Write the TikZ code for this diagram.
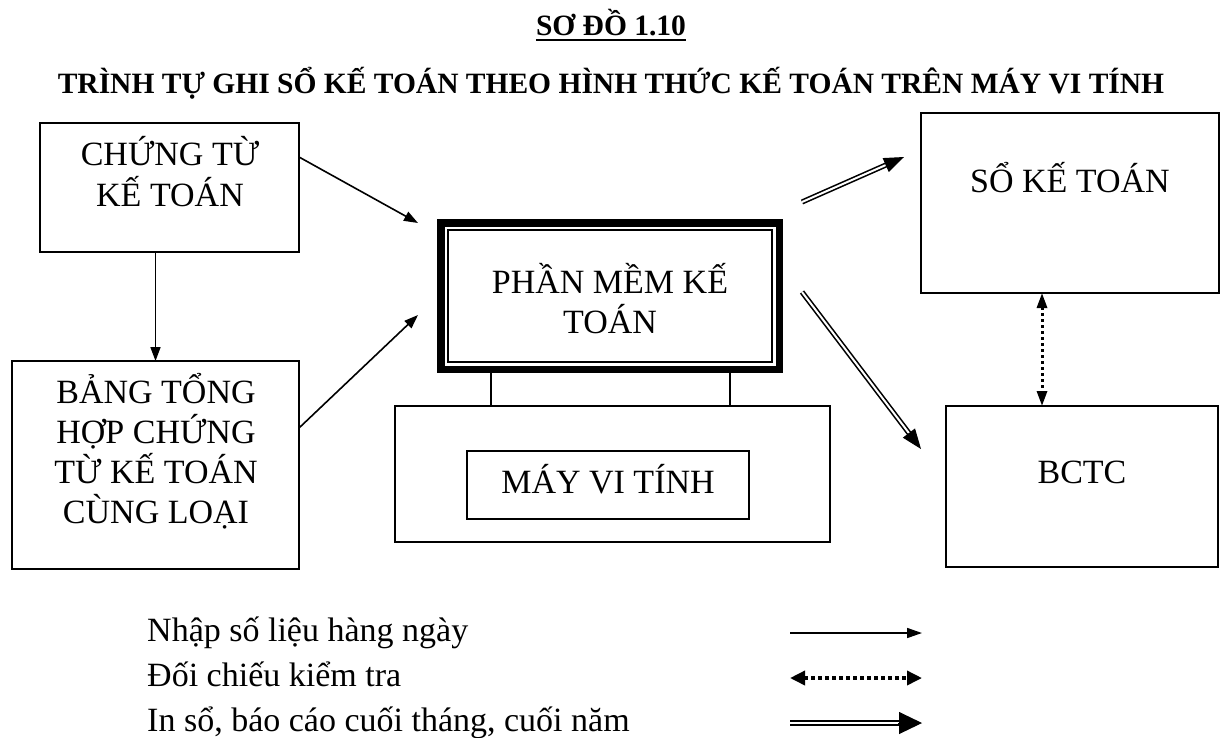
\documentclass[tikz,border=0pt]{standalone}
\usepackage{fontspec}
\setmainfont{Liberation Serif}
\usetikzlibrary{arrows.meta,calc}
\begin{document}
\begin{tikzpicture}[x=1pt,y=-1pt,
  box/.style={draw, line width=1.6pt, inner sep=0pt, outer sep=0pt, anchor=north west},
  txt/.style={inner sep=0pt, anchor=base, font=\fontsize{34}{40}\selectfont},
  lgtxt/.style={inner sep=0pt, anchor=base west, font=\fontsize{34}{40}\selectfont},
  ttl/.style={inner sep=0pt, anchor=base, font=\bfseries\fontsize{29.5}{34}\selectfont},
  arr/.style={line width=1.6pt, -{Triangle[length=14pt,width=10pt]}},
  dbl/.style={double, double distance=2pt, line width=1.6pt},
  dtip/.style={line width=1pt, -{Triangle[length=20pt,width=15pt]}},
  dot/.style={line width=3pt, dash pattern=on 3pt off 3pt,
    {Triangle[length=15pt,width=10pt]}-{Triangle[length=15pt,width=10pt]}},
  ldot/.style={line width=3.5pt, dash pattern=on 4pt off 3pt,
    {Triangle[length=15pt,width=14pt]}-{Triangle[length=15pt,width=14pt]}}]
\path[use as bounding box] (0,0) rectangle (1222,737);

% title
\node[ttl] (t1) at (611,35) {SƠ ĐỒ 1.10};
\draw[line width=2.2pt] ([yshift=-5pt]t1.base west) -- ([yshift=-5pt]t1.base east);
\node[ttl] (t2) at (611,93) {TRÌNH TỰ GHI SỔ KẾ TOÁN THEO HÌNH THỨC KẾ TOÁN TRÊN MÁY VI TÍNH};

% boxes
\node[box, minimum width=259pt, minimum height=129pt] (ct) at (40,123) {};
\node[box, minimum width=287pt, minimum height=208pt] (bth) at (12,361) {};
\node[box, line width=7.5pt, minimum width=338.5pt, minimum height=146.5pt] (pm) at (440.75,222.75) {};
\node[box, line width=1.5pt, minimum width=324pt, minimum height=132pt] (pmin) at (448,230) {};
\node[box, minimum width=435pt, minimum height=136pt] (mvt) at (395,406) {};
\node[box, minimum width=282pt, minimum height=68pt] (mvtin) at (467,451) {};
\node[box, minimum width=298pt, minimum height=180pt] (so) at (921,113) {};
\node[box, minimum width=272pt, minimum height=161pt] (bctc) at (946,406) {};

% legs
\coordinate (l1) at (491,0);
\coordinate (l2) at (730,0);
\draw[line width=1.6pt] (l1 |- pm.south) -- (l1 |- mvt.north);
\draw[line width=1.6pt] (l2 |- pm.south) -- (l2 |- mvt.north);

% texts
\node[txt] (ct1) at (170,165) {CHỨNG TỪ};
\node[txt] (ct2) at (170,206) {KẾ TOÁN};
\node[txt] (b1) at (156,403) {BẢNG TỔNG};
\node[txt] (b2) at (156,443) {HỢP CHỨNG};
\node[txt] (b3) at (156,483) {TỪ KẾ TOÁN};
\node[txt] (b4) at (156,523) {CÙNG LOẠI};
\node[txt] (p1) at (610,293) {PHẦN MỀM KẾ};
\node[txt] (p2) at (610,333) {TOÁN};
\node[txt] (m1) at (608,493) {MÁY VI TÍNH};
\node[txt] (s1) at (1070,192) {SỔ KẾ TOÁN};
\node[txt] (c1) at (1082,483) {BCTC};

% arrows
\draw[arr] (bth.north |- ct.south) -- (bth.north);
\coordinate (e1) at (418,223);
\coordinate (e2) at (418,315);
\draw[arr] ($(ct.north east)+(0,34)$) -- (e1);
\draw[arr] ($(bth.north east)+(0,67)$) -- (e2);

\coordinate (s3) at (802,202);
\coordinate (e3) at (904,157);
\coordinate (s4) at (802,292);
\coordinate (e4) at (921,449);
\draw[dbl] (s3) -- ($(e3)!16pt!(s3)$);
\draw[dtip] ($(e3)!20pt!(s3)$) -- (e3);
\draw[dbl] (s4) -- ($(e4)!16pt!(s4)$);
\draw[dtip] ($(e4)!20pt!(s4)$) -- (e4);

\coordinate (dx) at (1042,0);
\draw[dot] (dx |- so.south) -- (dx |- bctc.north);

% legend
\node[lgtxt] (lg1) at (147,641) {Nhập số liệu hàng ngày};
\node[lgtxt] (lg2) at (147,686) {Đối chiếu kiểm tra};
\node[lgtxt] (lg3) at (147,731) {In sổ, báo cáo cuối tháng, cuối năm};
\coordinate (la1) at (790,633);
\coordinate (lb1) at (922,633);
\coordinate (la2) at (790,678);
\coordinate (lb2) at (922,678);
\coordinate (la3) at (790,723);
\coordinate (lb3) at (922,723);
\draw[line width=1.6pt, -{Triangle[length=15pt,width=10pt]}] (la1) -- (lb1);
\draw[ldot] (la2) -- (lb2);
\draw[dbl] (la3) -- ($(lb3)!20pt!(la3)$);
\draw[line width=1pt, -{Triangle[length=23pt,width=22pt]}] ($(lb3)!24pt!(la3)$) -- (lb3);
\end{tikzpicture}
\end{document}
